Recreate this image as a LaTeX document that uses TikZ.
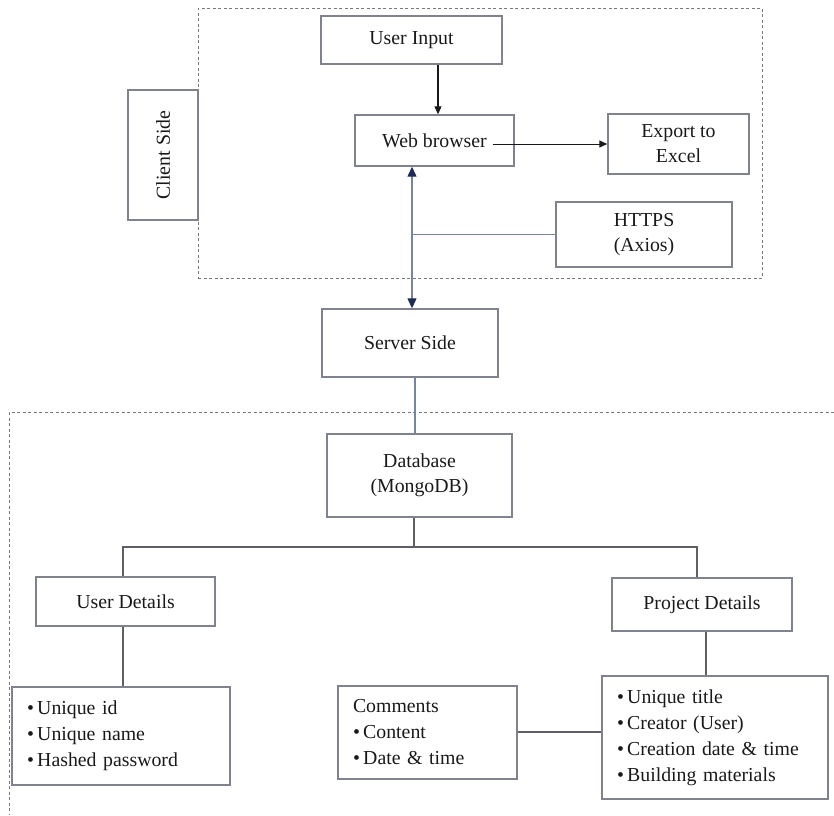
\documentclass[tikz,border=0pt]{standalone}
\usepackage{fontspec}
\setmainfont{Liberation Serif}
\usetikzlibrary{arrows.meta,calc}

\definecolor{boxline}{RGB}{128,130,142}
\definecolor{conn}{RGB}{95,95,103}
\definecolor{linkline}{RGB}{118,132,166}
\definecolor{navyhead}{RGB}{30,44,88}
\definecolor{ink}{RGB}{25,25,25}
\definecolor{zone}{RGB}{120,120,128}

\tikzset{
  box/.style={draw=boxline, line width=1.4pt, rectangle, inner sep=0pt,
    text=ink, font=\fontsize{19.8}{25}\selectfont, align=center},
  listbox/.style={box, align=left, inner xsep=15pt},
  zoneframe/.style={draw=zone, line width=0.9pt, dash pattern=on 3pt off 2.5pt},
  wire/.style={draw=conn, line width=1.4pt},
  blackarrow/.style={draw=ink, line width=1.1pt, -{Triangle[length=8pt,width=7pt]}},
  linkarrow/.style={draw=linkline, line width=1.2pt,
    {Triangle[length=10pt,width=9pt,color=navyhead]}-{Triangle[length=10pt,width=9pt,color=navyhead]}},
}

\begin{document}
\begin{tikzpicture}[x=1pt,y=-1pt]
  \useasboundingbox (0,0) rectangle (834,815);

  % client side frame and its label
  \node[zoneframe, rectangle, minimum width=564pt, minimum height=270pt, inner sep=0pt] (clientzone) at (480,143) {};
  \node[box, minimum width=70pt, minimum height=130pt] (client) at (163,155) {};
  \node[text=ink, font=\fontsize{19.8}{25}\selectfont, rotate=90] (clientlabel) at (client) {Client Side};

  % server side frame (open on the right and at the bottom)
  \coordinate (zoneR) at (834,412);
  \coordinate (zoneTL) at (9,412);
  \coordinate (zoneBL) at (9,815);
  \draw[zoneframe] (zoneR) -- (zoneTL) -- (zoneBL);

  % client side components
  \node[box, minimum width=181pt, minimum height=48pt] (userinput) at (411.5,40) {User Input};
  \node[box, minimum width=159pt, minimum height=51pt] (web) at (434.5,140.5) {Web browser};
  \node[box, minimum width=141pt, minimum height=60pt] (export) at (678.5,144) {Export to\\Excel};
  \node[box, minimum width=176pt, minimum height=65pt] (https) at (644,234.5) {HTTPS\\(Axios)};

  % server and database
  \node[box, minimum width=176pt, minimum height=68pt] (server) at (410,343) {Server Side};
  \node[box, minimum width=185pt, minimum height=83pt] (db) at (419.5,475.5) {Database\\(MongoDB)};

  % collections
  \node[box, minimum width=179pt, minimum height=49pt] (userdet) at (125.5,601.5) {User Details};
  \node[box, minimum width=180pt, minimum height=53pt] (projdet) at (702,604.5) {Project Details};

  \node[listbox, minimum width=218pt, minimum height=98pt, text width=188pt] (userlist) at (121,736)
    {\textbullet\,Unique id\\[1pt]\textbullet\,Unique name\\[1pt]\textbullet\,Hashed password};
  \node[listbox, minimum width=179pt, minimum height=93pt, text width=149pt] (comments) at (427.5,732.5)
    {Comments\\[1pt]\textbullet\,Content\\[1pt]\textbullet\,Date \& time};
  \node[listbox, minimum width=226pt, minimum height=123pt, text width=196pt] (projlist) at (715,737.5)
    {\textbullet\,Unique title\\[1pt]\textbullet\,Creator (User)\\[1pt]\textbullet\,Creation date \& time\\[1pt]\textbullet\,Building materials};

  % client side connectors
  \draw[blackarrow] ([xshift=3.5pt]web.north |- userinput.south) -- ([xshift=3.5pt]web.north);
  \draw[blackarrow, line width=0.9pt] ([xshift=-22pt]web.east |- export.west) -- (export.west);
  \draw[linkarrow] ([xshift=2pt]server.north |- web.south) -- ([xshift=2pt]server.north);
  \draw[draw=linkline, line width=1.2pt] ([xshift=2pt]server.north |- https.west) -- (https.west);

  % server to database
  \draw[draw=linkline, line width=1.4pt] ([xshift=5pt]server.south) -- ([xshift=5pt]server.south |- db.north);

  % database tree
  \coordinate (bus) at (414,547);
  \draw[wire] ([xshift=-5.5pt]db.south) -- ([xshift=-5.5pt]db.south |- bus);
  \draw[wire] ([xshift=-2.5pt]userdet.north) -- ([xshift=-2.5pt]userdet.north |- bus)
    -- ([xshift=-5pt]projdet.north |- bus) -- ([xshift=-5pt]projdet.north);
  \draw[wire] ([xshift=-2.5pt]userdet.south) -- ([xshift=-2.5pt]userdet.south |- userlist.north);
  \draw[wire] ([xshift=4pt]projdet.south) -- ([xshift=4pt]projdet.south |- projlist.north);
  \draw[wire] ([yshift=0.5pt]comments.east) -- ([yshift=0.5pt]comments.east -| projlist.west);
\end{tikzpicture}
\end{document}
